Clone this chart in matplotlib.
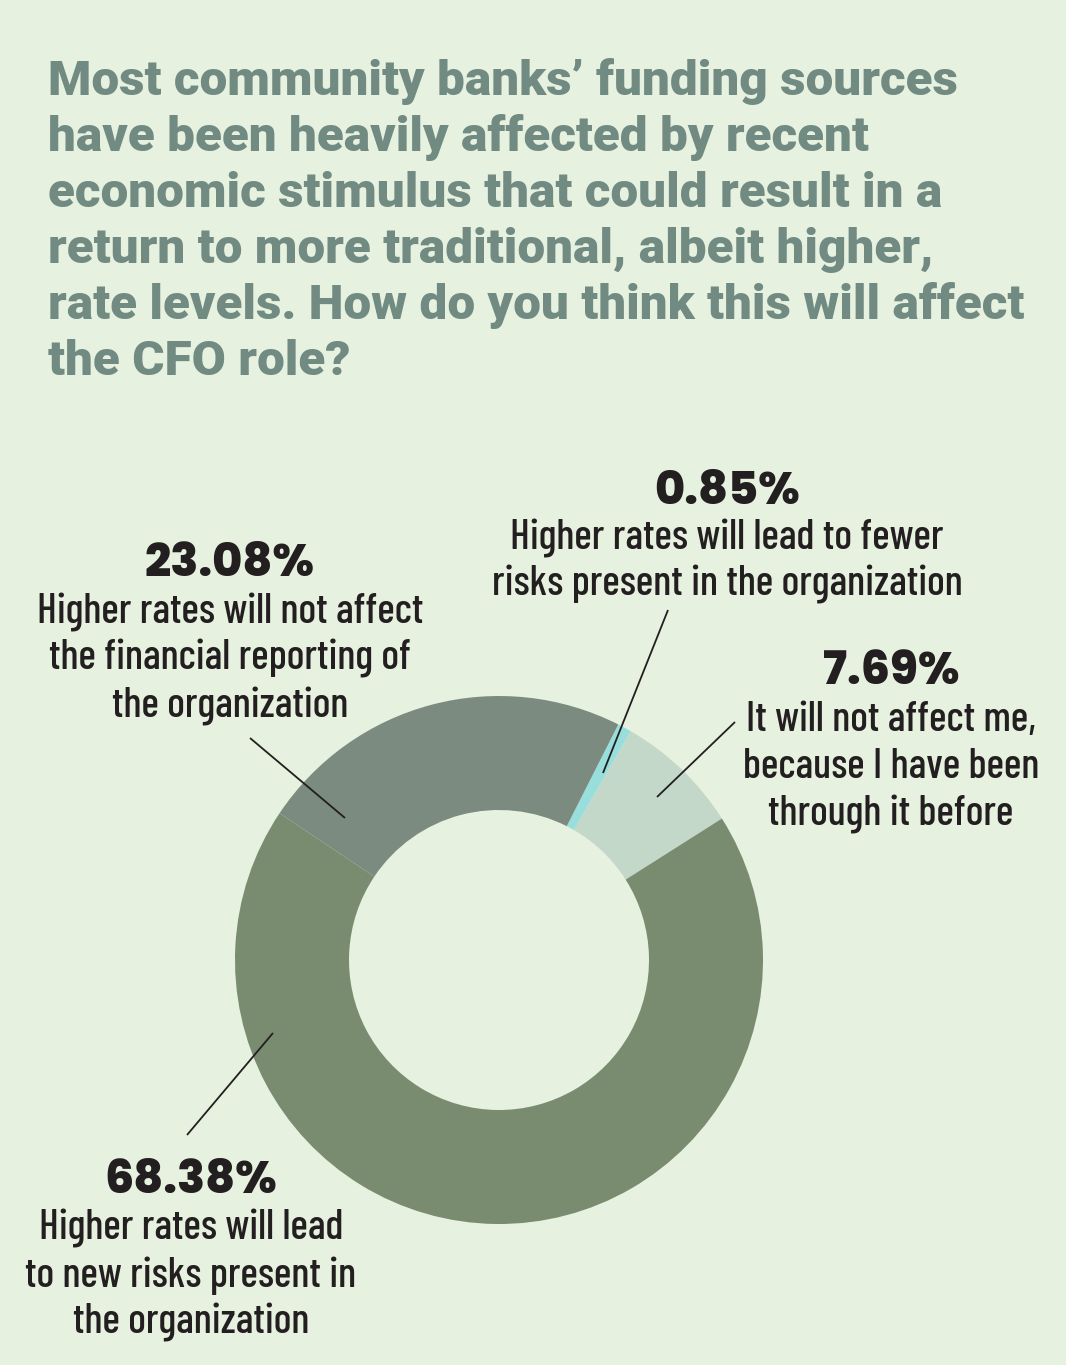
import matplotlib.pyplot as plt

# survey answers, in the order they go round the ring (counter-clockwise)
shares = [7.69, 0.85, 23.08, 68.38]
pct_labels = ["7.69%", "0.85%", "23.08%", "68.38%"]
answers = [
    ["It will not affect me,", "because I have been", "through it before"],
    ["Higher rates will lead to fewer", "risks present in the organization"],
    ["Higher rates will not affect", "the financial reporting of", "the organization"],
    ["Higher rates will lead", "to new risks present in", "the organization"],
]
colors = ["#c3d8c9", "#97dedc", "#7b8b80", "#798c70"]

title_lines = [
    "Most community banks\u2019 funding sources",
    "have been heavily affected by recent",
    "economic stimulus that could result in a",
    "return to more traditional, albeit higher,",
    "rate levels. How do you think this will affect",
    "the CFO role?",
]

W, H = 1066, 1365
BG = "#e6f1df"
TITLE_COL = "#718a82"
DARK = "#231f20"
TITLE_FONT = ["Roboto", "DejaVu Sans"]
LABEL_FONT = ["Barlow Condensed", "Roboto Condensed", "Liberation Sans Narrow", "DejaVu Sans"]
PCT_FONT = ["Poppins", "DejaVu Sans"]

fig = plt.figure(figsize=(W / 100, H / 100), dpi=100, facecolor=BG)
ax = fig.add_axes([0, 0, 1, 1])
ax.set_facecolor(BG)
ax.set_xlim(0, W)
ax.set_ylim(0, H)
ax.set_aspect("equal")
ax.axis("off")
renderer = fig.canvas.get_renderer()


def Y(y):
    # pixel row (from top) -> data y
    return H - y


def fit_size(text, family, weight, target_px, start=30):
    # find a font size that makes `text` about target_px wide
    t = ax.text(0, 0, text, fontsize=start, family=family, fontweight=weight)
    w = t.get_window_extent(renderer=renderer).width
    t.remove()
    return start * target_px / w


# title, one line at a time
title_size = fit_size(title_lines[4], TITLE_FONT, 900, 974)
for i, line in enumerate(title_lines):
    ax.text(48, Y(95 + 56 * i), line, fontsize=title_size, fontweight=900,
            color=TITLE_COL, ha="left", va="baseline", family=TITLE_FONT)

# donut
cx, cy, r_out, ring = 499, 960, 264, 114
ax.pie(shares, colors=colors, startangle=32.4, counterclock=True,
       radius=r_out, center=(cx, Y(cy)),
       wedgeprops=dict(width=ring, linewidth=0))

# label blocks: (centre x, percent baseline, line spacing)
blocks = [
    (891, 684, 47),
    (727, 504, 46),
    (230, 576, 47),
    (191, 1193, 47),
]
pct_size = fit_size("23.08%", PCT_FONT, 800, 170)
lab_size = fit_size("Higher rates will not affect", LABEL_FONT, 500, 386)
for (bx, by, step), pct, lines in zip(blocks, pct_labels, answers):
    ax.text(bx, Y(by), pct, fontsize=pct_size, fontweight=800, color=DARK,
            ha="center", va="baseline", family=PCT_FONT)
    for j, ln in enumerate(lines):
        ax.text(bx, Y(by + step * (j + 1)), ln, fontsize=lab_size, color=DARK,
                fontweight=500, ha="center", va="baseline", family=LABEL_FONT)

# leader lines
leaders = [
    ((735, 722), (657, 797)),
    ((668, 610), (603, 773)),
    ((250, 738), (345, 818)),
    ((187, 1135), (273, 1033)),
]
for (x0, y0), (x1, y1) in leaders:
    ax.plot([x0, x1], [Y(y0), Y(y1)], color=DARK, lw=1.3, solid_capstyle="butt")

ax.set_xlim(0, W)
ax.set_ylim(0, H)

fig.savefig("out.png", dpi=100, facecolor=BG)
